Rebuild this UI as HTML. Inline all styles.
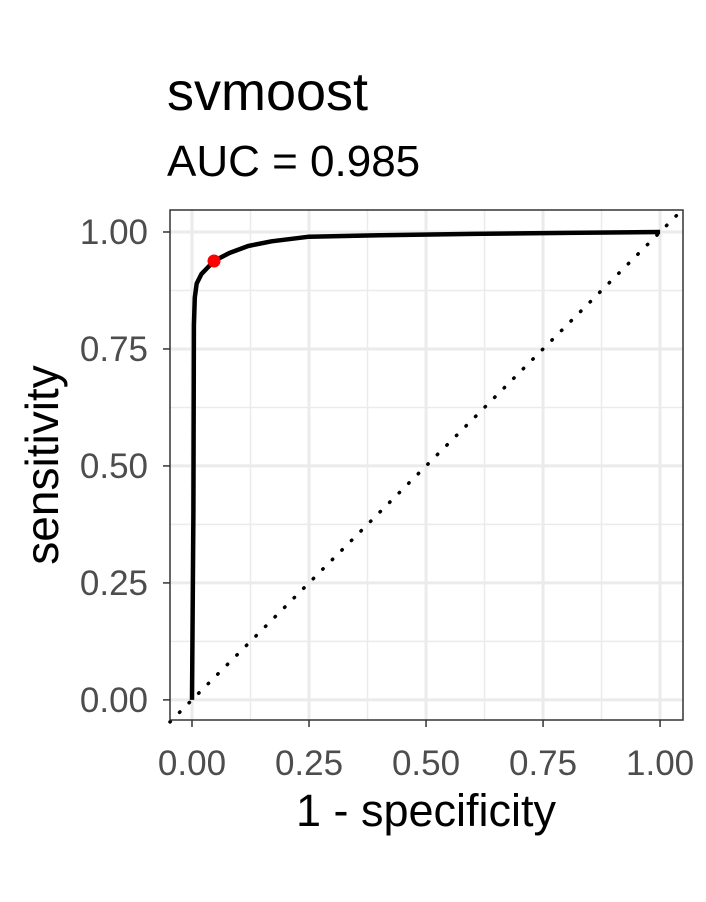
<!DOCTYPE html>
<html><head><meta charset="utf-8"><style>
body{margin:0;background:#fff}
svg{display:block;font-family:"Liberation Sans",Arial,sans-serif}
</style></head><body>
<svg id="chart" width="706" height="902">
<text x="167" y="110" font-size="54" fill="#000">svmoost</text>
<text x="167" y="176" font-size="44" fill="#000">AUC = 0.985</text>
<g id="grid"></g>
<g id="marks"></g>
<rect x="170" y="210" width="513" height="510" fill="none" stroke="#333" stroke-width="1.5"/>
<g id="axes"></g>
<text x="426" y="826" font-size="45" text-anchor="middle" fill="#000">1 - specificity</text>
<text transform="translate(58,465) rotate(-90)" font-size="46" text-anchor="middle" fill="#000">sensitivity</text>
</svg>
<script>
const fpr=[0,0.003,0.004,0.006,0.01,0.02,0.047,0.08,0.12,0.17,0.25,0.4,0.6,0.8,1];
const tpr=[0,0.4,0.8,0.86,0.89,0.91,0.938,0.955,0.97,0.98,0.99,0.993,0.996,0.998,1];
const cutoff=[0.047,0.938];
const ticks=[0,0.25,0.5,0.75,1];
const tickLabels=["0.00","0.25","0.50","0.75","1.00"];
const NS="http://www.w3.org/2000/svg";
const X0=170,X1=683,Y0=720,Y1=210,DMIN=-0.047,DMAX=1.049,YMIN=-0.043,YMAX=1.047;
const sx=v=>X0+(v-DMIN)/(DMAX-DMIN)*(X1-X0);
const sy=v=>Y0-(v-YMIN)/(YMAX-YMIN)*(Y0-Y1);
function mk(t,a,p){const e=document.createElementNS(NS,t);for(const k in a)e.setAttribute(k,a[k]);p.appendChild(e);return e;}
const grid=document.getElementById('grid'),marks=document.getElementById('marks'),axes=document.getElementById('axes');
for(let i=0;i<ticks.length-1;i++){const m=(ticks[i]+ticks[i+1])/2;
 const a=mk('line',{x1:sx(m),x2:sx(m),y1:Y1,y2:Y0,stroke:'#ebebeb','stroke-width':1.5},grid);
 
 const b=mk('line',{x1:X0,x2:X1,y1:sy(m),y2:sy(m),stroke:'#ebebeb','stroke-width':1.5},grid);
 }
ticks.forEach((t,i)=>{
 const a=mk('line',{x1:sx(t),x2:sx(t),y1:Y1,y2:Y0,stroke:'#ebebeb','stroke-width':3},grid);
 
 const b=mk('line',{x1:X0,x2:X1,y1:sy(t),y2:sy(t),stroke:'#ebebeb','stroke-width':3},grid);
 
 const c=mk('line',{x1:sx(t),x2:sx(t),y1:Y0,y2:Y0+7,stroke:'#333','stroke-width':1.5},axes);
 
 const d=mk('line',{x1:X0-7,x2:X0,y1:sy(t),y2:sy(t),stroke:'#333','stroke-width':1.5},axes);
 
 const e=mk('text',{x:sx(t),y:Y0+55,'font-size':35,'text-anchor':'middle',fill:'#4d4d4d'},axes);e.textContent=tickLabels[i];
 
 const f=mk('text',{x:X0-22,y:sy(t)+12,'font-size':35,'text-anchor':'end',fill:'#4d4d4d'},axes);f.textContent=tickLabels[i];
 
});
const diag=mk('line',{x1:X0,y1:sy(DMIN),x2:X1,y2:sy(DMAX),stroke:'#000','stroke-width':3.5,'stroke-dasharray':'0.5 13','stroke-linecap':'round'},marks);

let d='';fpr.forEach((v,i)=>{d+=(i?'L':'M')+sx(v).toFixed(1)+','+sy(tpr[i]).toFixed(1);});
const p=mk('path',{d:d,fill:'none',stroke:'#000','stroke-width':4.5,'stroke-linejoin':'round'},marks);

const c=mk('circle',{cx:sx(cutoff[0]),cy:sy(cutoff[1]),r:6.5,fill:'#ff0000'},marks);

</script>
</body></html>
